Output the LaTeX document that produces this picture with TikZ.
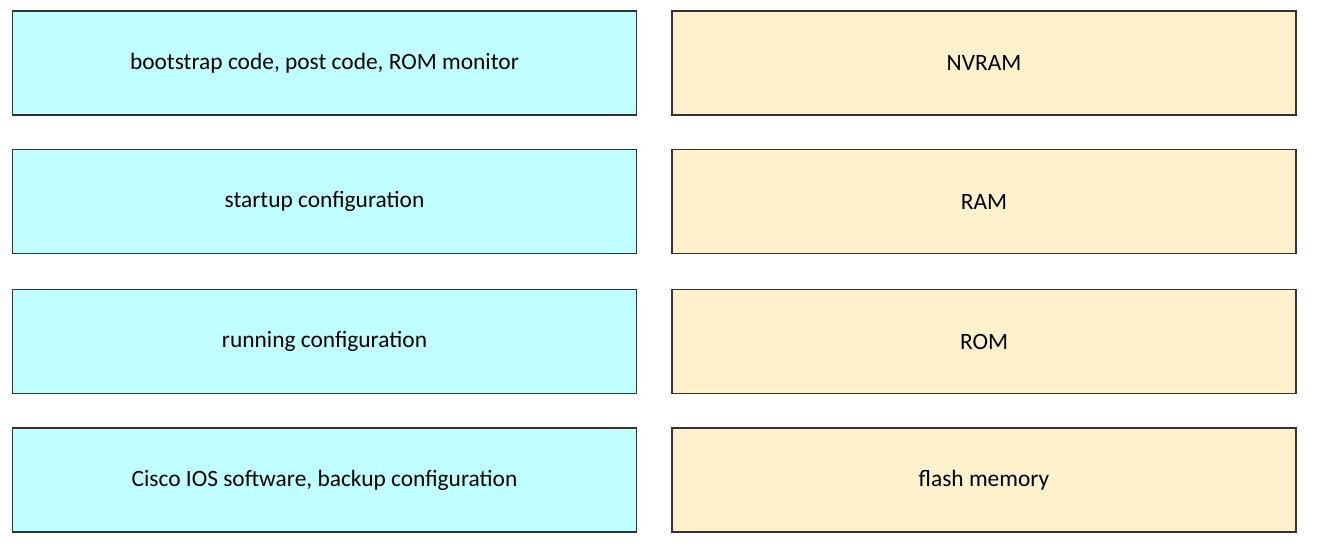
\documentclass[tikz,border=0pt]{standalone}
\usepackage{fontspec}
\setmainfont{Carlito}
\usepackage{xcolor}
\usepackage{tikz}
\usetikzlibrary{positioning}
\definecolor{itemfill}{HTML}{C0FFFF}
\definecolor{memfill}{HTML}{FFF0CC}
\definecolor{boxline}{HTML}{333333}

\begin{document}
\begin{tikzpicture}[x=0.5pt,y=-0.5pt,
    box/.style={draw=boxline,line width=0.8pt,minimum width=312pt,minimum height=52pt,inner sep=0pt,font=\fontsize{11.7pt}{14pt}\selectfont},
    item/.style={box,fill=itemfill},
    mem/.style={box,fill=memfill}]
          \useasboundingbox (0,0) rectangle (1318,552);
          \def\lx{324.5}
          \def\rx{984}
          \node[item] (boot) at (\lx,63) {bootstrap code, post code, ROM monitor};
          \node[item] (startup) at (\lx,201.5) {startup configuration};
          \node[item] (running) at (\lx,341.5) {running configuration};
          \node[item] (ios) at (\lx,480) {Cisco IOS software, backup configuration};
          \node[mem] (nvram) at (\rx,63) {NVRAM};
          \node[mem] (ram) at (\rx,201.5) {RAM};
          \node[mem] (rom) at (\rx,341.5) {ROM};
          \node[mem] (flash) at (\rx,480) {flash memory};
        \end{tikzpicture}
\end{document}
